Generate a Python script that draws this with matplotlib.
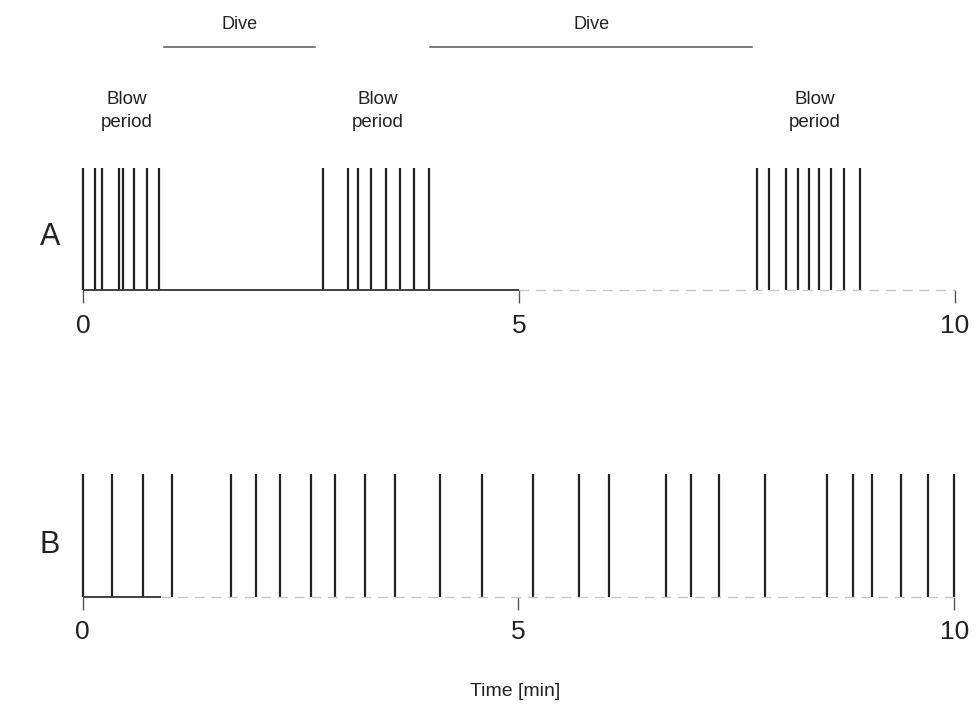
import matplotlib
matplotlib.use("Agg")
import matplotlib.pyplot as plt

plt.rcParams['font.family'] = ['Liberation Sans', 'DejaVu Sans']

# blow times (min), record A: three blow periods separated by dives
blows_a = [0.0, 0.134, 0.218, 0.406, 0.459, 0.585, 0.727, 0.865,
           2.753, 3.031, 3.151, 3.295, 3.475, 3.635, 3.790, 3.966,
           7.732, 7.863, 8.061, 8.199, 8.322, 8.443, 8.581, 8.730, 8.910]
# record B: blows spread evenly through the 10 minutes
blows_b = [0.0, 0.343, 0.694, 1.023, 1.699, 1.991, 2.267, 2.621, 2.897,
           3.243, 3.581, 4.096, 4.579, 5.164, 5.694, 6.039, 6.699, 6.979,
           7.298, 7.825, 8.546, 8.842, 9.053, 9.392, 9.698, 10.0]
dives = [(0.92, 2.66), (3.98, 7.67)]
blow_label_x = [0.5, 3.38, 8.39]
ticks = [0, 5, 10]

ink = "#222222"
fig = plt.figure(figsize=(9.79, 7.11), dpi=100)

ax_a = fig.add_axes([0.0851, 0.5921, 0.8904, 0.1712])
ax_b = fig.add_axes([0.0843, 0.1608, 0.8904, 0.1726])

for ax, blows, solid_end in [(ax_a, blows_a, 5.0), (ax_b, blows_b, 0.9)]:
    ax.set_xlim(0, 10)
    ax.set_ylim(0, 1)
    ax.vlines(blows, 0, 1, color=ink, lw=1.6, clip_on=False)
    ax.plot([0, solid_end], [0, 0], color="#333333", lw=1.3,
            solid_capstyle="butt", clip_on=False)
    # faint, broken trace after the solid stretch
    ax.plot([solid_end, 10], [0, 0], color="#c8c8c8", lw=1.0,
            ls=(0, (7, 5)), clip_on=False)
    for s in ax.spines.values():
        s.set_visible(False)
    ax.set_yticks([])
    ax.set_xticks(ticks)
    ax.set_xticklabels([str(t) for t in ticks], fontsize=19)
    ax.tick_params(axis="x", direction="out", length=9, width=1.0,
                   color="#555555", pad=8, labelcolor=ink)

fig.text(0.051, 1 - 237 / 711, "A", fontsize=22, color=ink, ha="center", va="center")
fig.text(0.051, 1 - 545 / 711, "B", fontsize=22, color=ink, ha="center", va="center")

# dive bars and labels above record A
for start, end in dives:
    ax_a.plot([start, end], [2.0, 2.0], color="#555555", lw=1.1, clip_on=False)
    ax_a.text((start + end) / 2, 2.18, "Dive", fontsize=13, color=ink,
              ha="center", va="center", clip_on=False)

for x in blow_label_x:
    ax_a.text(x, 1.47, "Blow\nperiod", fontsize=13.5, color=ink, ha="center",
              va="center", linespacing=1.5, clip_on=False)

fig.text(515 / 979, 1 - 692 / 711, "Time [min]", fontsize=14, color=ink,
         ha="center", va="center")

fig.savefig("out.png", dpi=100)
